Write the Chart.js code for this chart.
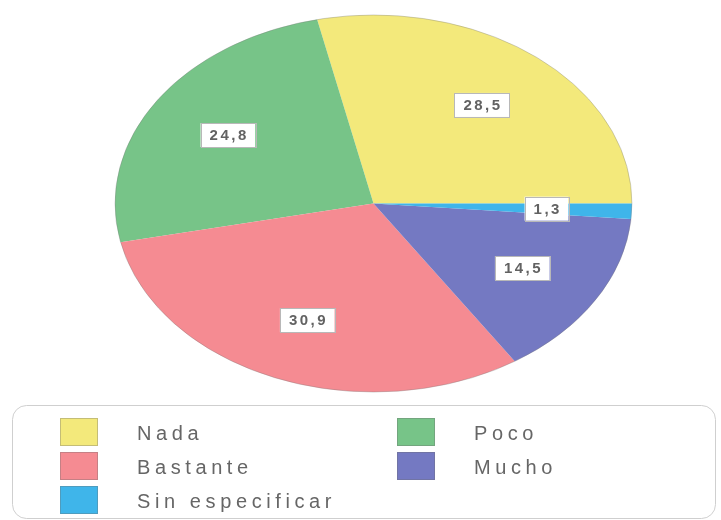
<!DOCTYPE html>
<html>
<head>
<meta charset="utf-8">
<script src="https://cdn.jsdelivr.net/npm/chart.js@4/dist/chart.umd.min.js"></script>
<style>
  html, body { margin: 0; padding: 0; background: #ffffff; }
  #wrap { width: 721px; height: 520px; position: relative; }
</style>
</head>
<body>
<div id="wrap"><canvas id="c" width="721" height="520"></canvas></div>
<script>
// Survey answers (percent of respondents)
const categories = ['Nada', 'Poco', 'Bastante', 'Mucho', 'Sin especificar'];
const percentages = [28.5, 24.8, 30.9, 14.5, 1.3];
const sliceColors = ['#f3e97b', '#77c488', '#f58b92', '#7479c2', '#3fb5ea'];

// Horizontal stretch that turns the round pie into a wide ellipse
const STRETCH = 1.371;
const LABEL_POS = 0.67;

function fmt(v) { return v.toFixed(1).replace('.', ','); }

const ellipsePie = {
  id: 'ellipsePie',
  beforeDatasetsDraw(chart) {
    const a = chart.getDatasetMeta(0).data[0];
    const ctx = chart.ctx;
    ctx.save();
    // mirrored so slices run counter-clockwise from 3 o'clock
    ctx.translate(a.x, a.y);
    ctx.scale(-STRETCH, 1);
    ctx.translate(-a.x, -a.y);
  },
  afterDatasetsDraw(chart) {
    const ctx = chart.ctx;
    ctx.restore();
    const arcs = chart.getDatasetMeta(0).data;
    const cx = arcs[0].x, cy = arcs[0].y, R = arcs[0].outerRadius;

    // faint outer rim
    ctx.save();
    ctx.beginPath();
    ctx.ellipse(cx, cy, R * STRETCH, R, 0, 0, Math.PI * 2);
    ctx.strokeStyle = 'rgba(120,120,120,0.35)';
    ctx.lineWidth = 1;
    ctx.stroke();
    ctx.restore();

    // value boxes
    ctx.save();
    ctx.font = 'bold 15px "Liberation Sans", Arial, sans-serif';
    ctx.letterSpacing = '2.5px';
    ctx.textBaseline = 'middle';
    arcs.forEach((arc, i) => {
      const mid = (arc.startAngle + arc.endAngle) / 2;
      const px = cx + Math.cos(mid) * R * LABEL_POS;
      const py = cy + Math.sin(mid) * R * LABEL_POS;
      const X = cx - STRETCH * (px - cx);
      const Y = py;
      const txt = fmt(percentages[i]);
      const w = ctx.measureText(txt).width - 2.5;
      const bw = w + 18, bh = 24;
      ctx.fillStyle = '#ffffff';
      ctx.fillRect(X - bw / 2, Y - bh / 2, bw, bh);
      ctx.strokeStyle = '#b8b8b8';
      ctx.lineWidth = 1;
      ctx.strokeRect(Math.round(X - bw / 2) + 0.5, Math.round(Y - bh / 2) + 0.5, Math.round(bw), bh);
      ctx.fillStyle = '#626262';
      ctx.textAlign = 'left';
      ctx.fillText(txt, X - w / 2, Y + 1);
    });
    ctx.restore();
  },
  afterDraw(chart) {
    const ctx = chart.ctx;
    ctx.save();
    // legend frame
    ctx.beginPath();
    ctx.roundRect(12.5, 405.5, 703, 113, 14);
    ctx.strokeStyle = '#cfcfcf';
    ctx.lineWidth = 1;
    ctx.stroke();

    const colX = [60, 397];
    const rowY = [418, 452, 486];
    ctx.font = '20px "Liberation Sans", Arial, sans-serif';
    ctx.letterSpacing = '4.6px';
    ctx.textBaseline = 'middle';
    ctx.textAlign = 'left';
    categories.forEach((name, i) => {
      const x = colX[i % 2], y = rowY[Math.floor(i / 2)];
      ctx.fillStyle = sliceColors[i];
      ctx.fillRect(x, y, 38, 28);
      ctx.strokeStyle = 'rgba(110,110,110,0.35)';
      ctx.strokeRect(x + 0.5, y + 0.5, 37, 27);
      ctx.fillStyle = '#666666';
      ctx.fillText(name, x + 77, y + 16);
    });
    ctx.restore();
  }
};

new Chart(document.getElementById('c'), {
  type: 'pie',
  data: {
    labels: categories,
    datasets: [{
      data: percentages,
      backgroundColor: sliceColors,
      borderWidth: 0,
      clip: false
    }]
  },
  options: {
    responsive: false,
    animation: false,
    rotation: -90,
    layout: { padding: { top: 15, bottom: 128, left: 185, right: 159 } },
    plugins: {
      legend: { display: false },
      tooltip: { enabled: false }
    }
  },
  plugins: [ellipsePie]
});
</script>
</body>
</html>
